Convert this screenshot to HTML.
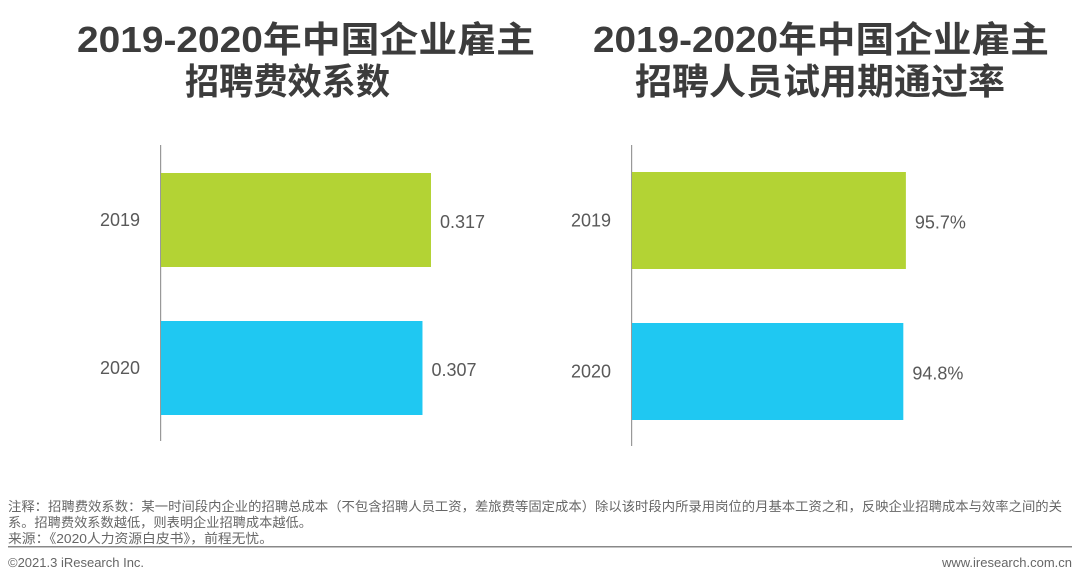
<!DOCTYPE html>
<html><head><meta charset="utf-8"><style>
body{margin:0;background:#fff;width:1080px;height:582px;overflow:hidden}
svg{display:block}
.t{font-family:"Liberation Sans","Noto Sans CJK SC",sans-serif;font-weight:bold;font-size:36px;fill:#3c3c3c}
.l{font-family:"Liberation Sans","Noto Sans CJK SC",sans-serif;font-size:18px;fill:#595959}
.f{font-family:"Liberation Sans","Noto Sans CJK SC",sans-serif;font-size:13px;fill:#666}
</style></head><body>
<svg id="s" width="1080" height="582">
<text class="t" x="77" y="52" textLength="458" lengthAdjust="spacingAndGlyphs">2019-2020年中国企业雇主</text>
<text class="t" x="185" y="94" textLength="205" lengthAdjust="spacingAndGlyphs">招聘费效系数</text>
<text class="t" x="593" y="52" textLength="456" lengthAdjust="spacingAndGlyphs">2019-2020年中国企业雇主</text>
<text class="t" x="635" y="94" textLength="370" lengthAdjust="spacingAndGlyphs">招聘人员试用期通过率</text>
<g id="left"></g>
<g id="right"></g>
<text class="f" x="8" y="511" textLength="1054" lengthAdjust="spacingAndGlyphs">注释：招聘费效系数：某一时间段内企业的招聘总成本（不包含招聘人员工资，差旅费等固定成本）除以该时段内所录用岗位的月基本工资之和，反映企业招聘成本与效率之间的关</text>
<text class="f" x="8" y="527" textLength="304" lengthAdjust="spacingAndGlyphs">系。招聘费效系数越低，则表明企业招聘成本越低。</text>
<text class="f" x="8" y="543" textLength="265" lengthAdjust="spacingAndGlyphs">来源：《2020人力资源白皮书》，前程无忧。</text>
<rect x="8" y="546" width="1064" height="1.5" fill="#888"></rect>
<text class="f" x="8" y="567">©2021.3 iResearch Inc.</text>
<text class="f" x="1072" y="567" text-anchor="end">www.iresearch.com.cn</text>
</svg>
<script>
const categories=["2019","2020"];
const leftValues=[0.317,0.307];
const leftLabels=["0.317","0.307"];
const rightValues=[95.7,94.8];
const rightLabels=["95.7%","94.8%"];
const colors=["#B3D334","#1FC8F2"];
const NS="http://www.w3.org/2000/svg";
function mk(t,a,p){const e=document.createElementNS(NS,t);for(const k in a)e.setAttribute(k,a[k]);p.appendChild(e);return e;}
function draw(g,ax0,axTop,axBot,bandTop,bandH,barH,scale,vals,labels,side){
  const ax=mk('rect',{x:ax0,y:axTop,width:1.2,height:axBot-axTop,fill:'#999'},g);
  
  
  vals.forEach((v,i)=>{
    const y=bandTop+i*bandH;
    const w=v*scale;
    const r=mk('rect',{x:ax0+1,y:y,width:w,height:barH,fill:colors[i]},g);
    
    
    const c=mk('text',{x:ax0-20,y:y+barH/2+6,'text-anchor':'end',class:'l'},g);
    c.textContent=categories[i];
    
    
    const t=mk('text',{x:ax0+w+10,y:y+barH/2+8,class:'l'},g);
    t.textContent=labels[i];
    
    
  });
}
draw(document.getElementById('left'),160,145,441,173,148,94,851.7,leftValues,leftLabels,'left');
draw(document.getElementById('right'),631,145,446,172,151,97,2.862,rightValues,rightLabels,'right');
</script>
</body></html>
